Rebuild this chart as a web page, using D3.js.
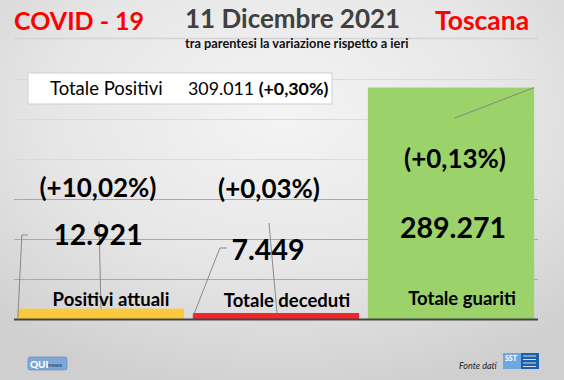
<!DOCTYPE html>
<html>
<head>
<meta charset="utf-8">
<script src="https://cdn.jsdelivr.net/npm/d3@7"></script>
<style>
  html, body { margin: 0; padding: 0; background: #e6e6e6; }
  svg { display: block; }
  text { font-family: Lato, "Open Sans", sans-serif; }
</style>
</head>
<body>
<svg id="chart" width="564" height="380"></svg>
<script>
// ---------- DATA ----------
const categories = ["Positivi attuali", "Totale deceduti", "Totale guariti"];
const values = [12921, 7449, 289271];
const variations = ["(+10,02%)", "(+0,03%)", "(+0,13%)"];
const yTicks = [0, 50000, 100000, 150000, 200000, 250000, 300000];
const totalLabel = "Totale Positivi";
const totalValue = 309011;
const totalVariation = "(+0,30%)";
const titleLeft = "COVID - 19";
const titleDate = "11 Dicembre 2021";
const titleRight = "Toscana";
const subtitle = "tra parentesi la variazione rispetto a ieri";
const sourceLabel = "Fonte dati";

// ---------- STYLE / LAYOUT ----------
const barColors = ["#fbc93b", "#f2262a", "#9bd26a"];
const W = 564, H = 380;
const plot = { left: 14, right: 538, top: 79, bottom: 319 };
const labelLayout = [
  { pctDx: -3, pctY: 197, valDx: -3, valY: 245, catDx: 10, catY: 306 },
  { pctDx: -7, pctY: 198, valDx: -8, valY: 260, catDx: 11, catY: 307 },
  { pctDx: 4,  pctY: 168, valDx: 2,  valY: 238, catDx: 11, catY: 305 }
];

const it = d3.formatLocale({ decimal: ",", thousands: ".", grouping: [3], currency: ["€", ""] });
const fmt = it.format(",d");

const svg = d3.select("#chart");

// background gradient
const defs = svg.append("defs");
const rg = defs.append("radialGradient").attr("id", "bg")
  .attr("cx", "50%").attr("cy", "30%").attr("r", "75%");
rg.append("stop").attr("offset", "0%").attr("stop-color", "#f4f4f4");
rg.append("stop").attr("offset", "55%").attr("stop-color", "#e6e6e6");
rg.append("stop").attr("offset", "100%").attr("stop-color", "#cfcfcf");
svg.append("rect").attr("width", W).attr("height", H).attr("fill", "url(#bg)");

// scales
const x = d3.scaleBand().domain(categories).range([plot.left, plot.right])
  .paddingInner(0.05).paddingOuter(0.022);
const y = d3.scaleLinear().domain([0, 300000]).range([plot.bottom, plot.top]);

// gridlines
svg.append("g").selectAll("line").data(yTicks.slice(1)).join("line")
  .attr("x1", plot.left).attr("x2", plot.right)
  .attr("y1", d => Math.round(y(d)) + 0.5).attr("y2", d => Math.round(y(d)) + 0.5)
  .attr("stroke", (d, i) => i >= 3 ? "#dadada" : "#a9a9a9").attr("stroke-width", 1);

// bars
svg.append("g").selectAll("rect").data(values).join("rect")
  .attr("x", (d, i) => x(categories[i]))
  .attr("width", x.bandwidth())
  .attr("y", d => y(d))
  .attr("height", d => y(0) - y(d))
  .attr("fill", (d, i) => barColors[i]);

// baseline axis
svg.append("line").attr("x1", plot.left).attr("x2", plot.right)
  .attr("y1", y(0) + 0.5).attr("y2", y(0) + 0.5)
  .attr("stroke", "#444").attr("stroke-width", 2.2);

// leader lines (relative to bars)
const lead = svg.append("g").attr("fill", "none").attr("stroke", "#808080").attr("stroke-width", 0.9);
{
  const b0 = x(categories[0]), c0 = b0 + x.bandwidth() / 2, t0 = y(values[0]);
  lead.append("polyline").attr("points", [[b0 + 10, 235], [b0 + 4, 235], [b0, y(0) - 1]].join(" "));
  lead.append("line").attr("x1", c0 - 2).attr("y1", 221).attr("x2", c0).attr("y2", t0);
  const b1 = x(categories[1]), c1 = b1 + x.bandwidth() / 2, t1 = y(values[1]);
  lead.append("polyline").attr("points", [[b1 + 34, 248], [b1 + 27, 248], [b1, y(0) - 2]].join(" "));
  lead.append("line").attr("x1", c1 - 7).attr("y1", 223).attr("x2", c1 + 1).attr("y2", t1);
  const b2 = x(categories[2]), t2 = y(values[2]);
  lead.append("line").attr("x1", b2 + 87).attr("y1", 118).attr("x2", b2 + x.bandwidth()).attr("y2", t2);
}

// data labels
const lbl = svg.append("g").attr("text-anchor", "middle").attr("font-weight", 700).attr("fill", "#000");
categories.forEach((c, i) => {
  const cx = x(c) + x.bandwidth() / 2, L = labelLayout[i];
  lbl.append("text").attr("x", cx + L.pctDx).attr("y", L.pctY).attr("font-size", 26).text(variations[i]);
  lbl.append("text").attr("x", cx + L.valDx).attr("y", L.valY).attr("font-size", 28.5).text(fmt(values[i]));
  lbl.append("text").attr("x", cx + L.catDx).attr("y", L.catY).attr("font-size", 18.5).text(c);
});

// total positivi box
svg.append("rect").attr("x", 28).attr("y", 73).attr("width", 304).attr("height", 31)
  .attr("fill", "#fff").attr("stroke", "#cfcfcf").attr("stroke-width", 1);
svg.append("text").attr("x", 50).attr("y", 95).attr("font-size", 18.5).attr("fill", "#000").text(totalLabel);
const tv = svg.append("text").attr("x", 188).attr("y", 95).attr("font-size", 17.8).attr("fill", "#000");
tv.append("tspan").text(fmt(totalValue) + " ");
tv.append("tspan").attr("font-weight", 700).text(totalVariation);

// header
svg.append("line").attr("x1", 14).attr("x2", 538).attr("y1", 38.5).attr("y2", 38.5)
  .attr("stroke", "#d4d4d4").attr("stroke-width", 1.5);
svg.append("text").attr("x", 14).attr("y", 30).attr("font-size", 25).attr("font-weight", 700)
  .attr("fill", "#ff0000").text(titleLeft);
svg.append("text").attr("x", 185).attr("y", 28).attr("font-size", 26).attr("font-weight", 700)
  .attr("fill", "#404040").text(titleDate);
svg.append("text").attr("x", 435).attr("y", 30).attr("font-size", 26.5).attr("font-weight", 700)
  .attr("fill", "#ff0000").text(titleRight);
svg.append("text").attr("x", 185).attr("y", 48).attr("font-size", 12.8).attr("font-weight", 700)
  .attr("fill", "#111").text(subtitle);

// footer
const q = svg.append("g");
q.append("rect").attr("x", 28).attr("y", 357).attr("width", 39).attr("height", 13).attr("rx", 2)
  .attr("fill", "#7ea6d6").attr("stroke", "#5f88bd").attr("stroke-width", 0.6);
q.append("text").attr("x", 30).attr("y", 367.5).attr("font-size", 10).attr("font-weight", 900)
  .attr("fill", "#fff").text("QUI");
q.append("text").attr("x", 48).attr("y", 367).attr("font-size", 6).attr("font-weight", 700)
  .attr("fill", "#2c4f7d").text("news");
svg.append("text").attr("x", 459).attr("y", 369).attr("font-size", 9).attr("font-style", "italic")
  .attr("fill", "#222").text(sourceLabel);
const s = svg.append("g");
s.append("rect").attr("x", 503).attr("y", 353).attr("width", 18).attr("height", 16).attr("fill", "#6fa8e0");
s.append("rect").attr("x", 521).attr("y", 353).attr("width", 18).attr("height", 16).attr("fill", "#1d5fa8");
s.append("text").attr("x", 505).attr("y", 361).attr("font-size", 7).attr("font-weight", 900)
  .attr("fill", "#fff").text("SST");
s.selectAll("line.t").data([0, 1, 2, 3]).join("line")
  .attr("x1", 523).attr("x2", 536).attr("y1", d => 356 + d * 3.5).attr("y2", d => 356 + d * 3.5)
  .attr("stroke", "#cfe0f4").attr("stroke-width", 1);
</script>
</body>
</html>
